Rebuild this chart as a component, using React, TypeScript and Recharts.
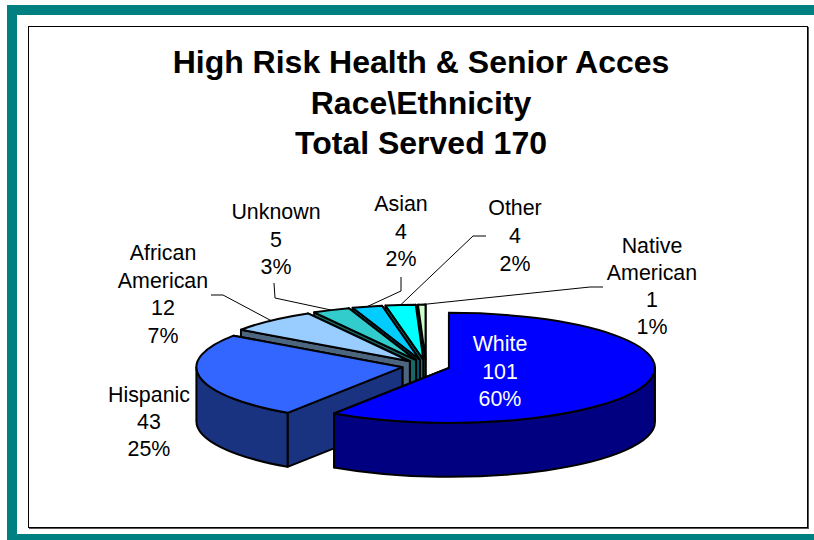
import { Pie, PieChart } from "recharts";

const categories = ["White", "Hispanic", "African American", "Unknown", "Asian", "Other", "Native American"];
const served = [101, 43, 12, 5, 4, 4, 1];
const percents = ["60%", "25%", "7%", "3%", "2%", "2%", "1%"];
const topColors = ["#0000ff", "#3366ff", "#99ccff", "#33cccc", "#00ccff", "#00ffff", "#ccffcc"];
const wallColors = ["#000080", "#1a3380", "#4d6680", "#1a6666", "#006680", "#008080", "#668066"];
const titleLines = ["High Risk Health & Senior Acces", "Race\\Ethnicity", "Total Served 170"];

// label placement only: text centre, first baseline, elbows of the leader line
const labelLayout: Record<string, { x: number; y: number; step: number; fill?: string; line?: number[][] }> = {
  White: { x: 500, y: 351, step: 27.5, fill: "#fff" },
  Hispanic: { x: 149, y: 402, step: 27 },
  "African American": { x: 163, y: 260, step: 27.5, line: [[211, 295], [223, 295]] },
  Unknown: { x: 276, y: 219, step: 27.5, line: [[274, 283], [275, 298]] },
  Asian: { x: 401, y: 211, step: 27.5, line: [[401, 277], [401, 291]] },
  Other: { x: 515, y: 215, step: 28, line: [[486, 236], [473, 236]] },
  "Native American": { x: 652, y: 253, step: 27, line: [[603, 287], [590, 287]] },
};

const CX = 426;
const CY = 366;
const RX = 206;
const SQUASH = 55 / 206;
const DEPTH = 54;
const EXPLODE = 24;

const rad = (a: number) => (a * Math.PI) / 180;
const pt = (ox: number, oy: number, a: number) => [
  ox + RX * Math.cos(rad(a)),
  oy - RX * SQUASH * Math.sin(rad(a)),
];
const apex = (mid: number) => [
  CX + EXPLODE * Math.cos(rad(mid)),
  CY - EXPLODE * SQUASH * Math.sin(rad(mid)),
];

// flat pie slice drawn as a tilted 3D wedge
const Wedge = (props: any) => {
  const { startAngle, endAngle, payload } = props;
  const [ox, oy] = apex((startAngle + endAngle) / 2);
  const ry = RX * SQUASH;
  const [sx, sy] = pt(ox, oy, startAngle);
  const [ex, ey] = pt(ox, oy, endAngle);
  const large = endAngle - startAngle > 180 ? 1 : 0;
  const top = `M${ox},${oy} L${sx},${sy} A${RX},${ry} 0 ${large} 0 ${ex},${ey} Z`;
  const side = (x: number, y: number) =>
    `M${ox},${oy} L${x},${y} L${x},${y + DEPTH} L${ox},${oy + DEPTH} Z`;
  const a = Math.max(startAngle, 180);
  const b = Math.min(endAngle, 360);
  let rim = "";
  if (b > a) {
    const [ax, ay] = pt(ox, oy, a);
    const [bx, by] = pt(ox, oy, b);
    rim = `M${ax},${ay} A${RX},${ry} 0 0 0 ${bx},${by} L${bx},${by + DEPTH} A${RX},${ry} 0 0 1 ${ax},${ay + DEPTH} Z`;
  }
  const edge = { stroke: "#000", strokeWidth: 2, strokeLinejoin: "round" as const };
  return (
    <g>
      <path d={side(sx, sy)} fill={payload.wall} {...edge} />
      <path d={side(ex, ey)} fill={payload.wall} {...edge} />
      {rim && <path d={rim} fill={payload.wall} {...edge} />}
      <path d={top} fill={payload.fill} {...edge} />
    </g>
  );
};

const SliceLabel = (props: any) => {
  const { payload, midAngle } = props;
  const layout = labelLayout[payload.name];
  const [ox, oy] = apex(midAngle);
  const [tx, ty] = pt(ox, oy, midAngle);
  const lines = [...payload.name.split(" "), String(payload.value), payload.pct];
  return (
    <g>
      {layout.line && (
        <polyline
          points={[...layout.line, [tx, ty]].map((p) => p.join(",")).join(" ")}
          fill="none"
          stroke="#000"
          strokeWidth={1}
        />
      )}
      {lines.map((line: string, i: number) => (
        <text
          key={i}
          x={layout.x}
          y={layout.y + i * layout.step}
          textAnchor="middle"
          fontSize={21.4}
          fontFamily="Liberation Sans"
          fill={layout.fill ?? "#000"}
        >
          {line}
        </text>
      ))}
    </g>
  );
};

// drawn back to front, so the table runs from the last slice to the first
const rows = categories
  .map((name, i) => ({ name, value: served[i], pct: percents[i], fill: topColors[i], wall: wallColors[i] }))
  .reverse();

const App = () => (
  <div style={{ position: "fixed", left: 0, top: 0, width: 814, height: 540, background: "#fff", overflow: "hidden" }}>
    <div style={{ position: "absolute", left: 7, top: 5, width: 807, height: 10, background: "#008080" }} />
    <div style={{ position: "absolute", left: 7, top: 5, width: 10, height: 535, background: "#008080" }} />
    <div style={{ position: "absolute", left: 7, top: 534, width: 807, height: 6, background: "#008080" }} />
    <div
      style={{
        position: "absolute",
        left: 28,
        top: 26,
        width: 778,
        height: 500,
        border: "1px solid #000",
        boxShadow: "1px 1px 0 #555",
      }}
    />
    <div style={{ position: "absolute", left: 0, top: 0 }}>
      <PieChart width={814} height={540} margin={{ top: 0, right: 0, bottom: 0, left: 0 }}>
        {titleLines.map((line, i) => (
          <text
            key={line}
            x={421}
            y={73 + i * 40.5}
            textAnchor="middle"
            fontSize={32}
            fontWeight="bold"
            fontFamily="Liberation Sans"
            fill="#000"
          >
            {line}
          </text>
        ))}
        <Pie
          data={rows}
          dataKey="value"
          nameKey="name"
          cx={CX}
          cy={CY}
          outerRadius={RX}
          startAngle={90}
          endAngle={450}
          shape={Wedge}
          label={SliceLabel}
          labelLine={false}
          isAnimationActive={false}
        />
      </PieChart>
    </div>
  </div>
);

export default App;
